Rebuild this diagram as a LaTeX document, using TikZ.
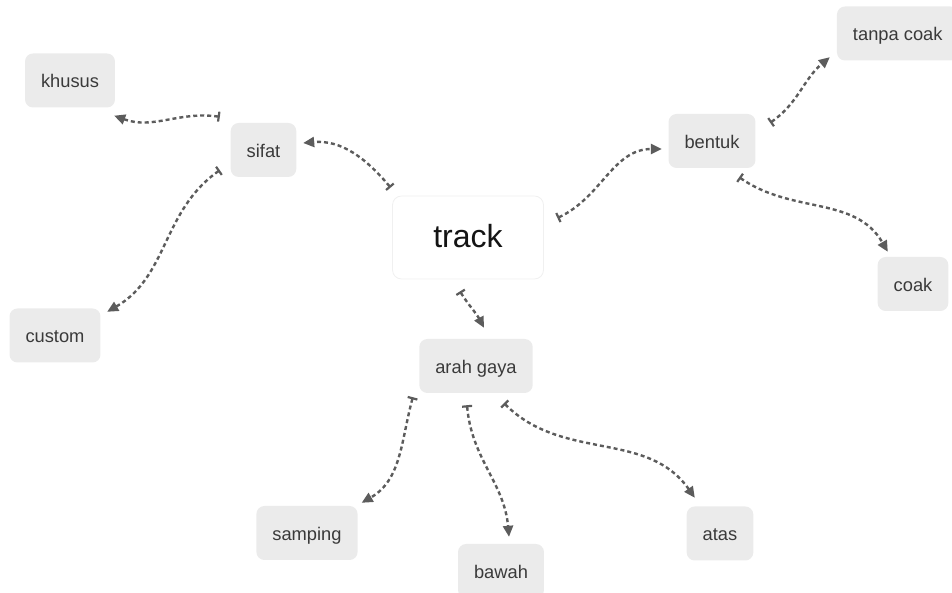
\documentclass[tikz,border=0pt]{standalone}
\usepackage{fontspec}
\setmainfont{Liberation Sans}
\usetikzlibrary{arrows.meta,calc}
\definecolor{boxfill}{HTML}{EBEBEB}
\definecolor{labeltext}{HTML}{3A3A3A}
\definecolor{linkgray}{HTML}{5C5C5C}

\begin{document}
\begin{tikzpicture}[x=1pt,y=1pt,
  topic/.style={fill=boxfill, rounded corners=8pt, inner xsep=16pt, inner ysep=0pt,
    minimum height=54pt, text=labeltext, font=\fontsize{18.3}{22}\selectfont,
    text height=17pt, text depth=2pt},
  root/.style={fill=white, draw=black!6, line width=0.8pt, rounded corners=9pt,
    minimum width=151pt, minimum height=83pt, text=black!92,
    font=\fontsize{32}{38}\selectfont, text height=25pt, text depth=4pt},
  link/.style={draw=linkgray, line width=2.4pt, dash pattern=on 4pt off 3pt,
    {Bar[width=10pt,line width=2.2pt]}-{Triangle[length=11pt,width=10pt]}}
]
\useasboundingbox (0,0) rectangle (952,593);

% central topic
\node[root] (track) at (468,355.5) {track};

% first level
\node[topic] (sifat)  at (263.5,443) {sifat};
\node[topic] (bentuk) at (712,452) {bentuk};
\node[topic] (arah)   at (476,227) {arah gaya};

% second level
\node[topic] (khusus) at (70,512.5) {khusus};
\node[topic] (custom) at (55,257.5) {custom};
\node[topic] (tanpa)  at (897.75,559.5) {tanpa coak};
\node[topic] (coak)   at (913,309) {coak};
\node[topic] (samping) at (307,60) {samping};
\node[topic] (bawah)  at (501,22) {bawah};
\node[topic] (atas)   at (720,59.5) {atas};

% links from the central topic
\draw[link] ([shift={(-1.5pt,8pt)}]track.north west) to[out=130,in=5]
  ([shift={(6.7pt,7pt)}]sifat.east);
\draw[link] ([shift={(13.5pt,19.5pt)}]track.east) to[out=25,in=180]
  ([shift={(-6.5pt,-8pt)}]bentuk.west);
\draw[link] ([shift={(-8pt,-12pt)}]track.south) to[out=-58,in=118]
  ([shift={(8pt,11pt)}]arah.north);

% links from sifat
\draw[link] ([shift={(-10.7pt,6pt)}]sifat.north west) to[out=172,in=-20]
  ([shift={(-1pt,-8pt)}]khusus.south east);
\draw[link] ([shift={(-10.7pt,7pt)}]sifat.south west) to[out=215,in=30]
  ([shift={(6.5pt,-3.5pt)}]custom.north east);

% links from bentuk
\draw[link] ([shift={(14.5pt,-9pt)}]bentuk.north east) to[out=35,in=220]
  ([shift={(-7pt,3.5pt)}]tanpa.south west);
\draw[link] ([shift={(-16.5pt,-9pt)}]bentuk.south east) to[out=-35,in=120]
  ([shift={(10.3pt,5pt)}]coak.north west);

% links from arah gaya
\draw[link] ([shift={(-6.3pt,-4pt)}]arah.south west) to[out=-105,in=30]
  ([shift={(3.9pt,3pt)}]samping.north east);
\draw[link] ([shift={(-9pt,-12pt)}]arah.south) to[out=-85,in=95]
  ([shift={(8pt,7pt)}]bawah.north);
\draw[link] ([shift={(28pt,-10pt)}]arah.south) to[out=-45,in=125]
  ([shift={(8.3pt,8.5pt)}]atas.north west);
\end{tikzpicture}
\end{document}
